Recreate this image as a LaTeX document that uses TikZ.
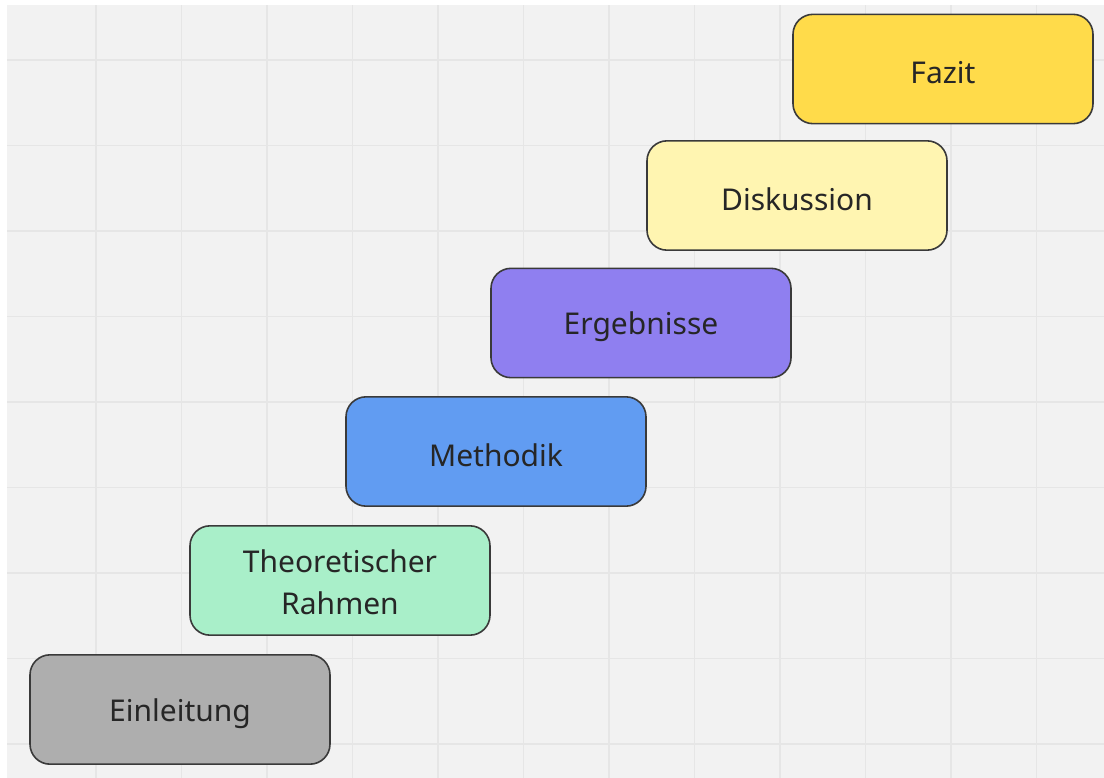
\documentclass[tikz,border=0pt]{standalone}
\usepackage{fontspec}
\setmainfont{Noto Sans}
\definecolor{bggray}{HTML}{F2F2F2}
\definecolor{gridgray}{HTML}{E6E6E6}
\definecolor{edge}{HTML}{3A3A3A}
\definecolor{txt}{HTML}{262626}
\definecolor{cEin}{HTML}{AEAEAE}
\definecolor{cTheo}{HTML}{A9EFC9}
\definecolor{cMeth}{HTML}{619CF2}
\definecolor{cErg}{HTML}{8F7FF0}
\definecolor{cDis}{HTML}{FFF5B1}
\definecolor{cFaz}{HTML}{FFDB4A}
\newcommand{\lowtxt}[1]{\raisebox{-3pt}[\height][\depth]{#1}}
\tikzset{
  stepbox/.style={draw=edge, line width=1.2pt, rounded corners=15pt,
    minimum width=225pt, minimum height=82pt, inner sep=0pt,
    text=txt, align=center, font=\fontsize{22.5}{31.5}\selectfont},
}
\begin{document}
\begin{tikzpicture}[x=0.75pt,y=-0.75pt]
\useasboundingbox (0,0) rectangle (1104,778);
\fill[white] (0,0) rectangle (1104,778);
\fill[bggray] (7,5) rectangle (1104,778);
\foreach \gx in {96,181.5,267,352.5,438,523.5,609,694.5,780,865.5,951,1036.5}
  \draw[gridgray, line width=1pt] (\gx,5) -- (\gx,778);
\foreach \gy in {60,145.5,231,316.5,402,487.5,573,658.5,744}
  \draw[gridgray, line width=1pt] (7,\gy) -- (1104,\gy);
\node[stepbox, fill=cEin]  (ein)  at (180,709.5) {\lowtxt{Einleitung}};
\node[stepbox, fill=cTheo] (theo) at (340,580.5) {\raisebox{-1.5pt}[\height][\depth]{\shortstack{Theoretischer\\[11pt]Rahmen}}};
\node[stepbox, fill=cMeth] (meth) at (496,451.5) {\lowtxt{Methodik}};
\node[stepbox, fill=cErg]  (erg)  at (641,323) {\lowtxt{Ergebnisse}};
\node[stepbox, fill=cDis]  (dis)  at (797,195.5) {\lowtxt{Diskussion}};
\node[stepbox, fill=cFaz]  (faz)  at (943,69) {\lowtxt{Fazit}};
\end{tikzpicture}
\end{document}
